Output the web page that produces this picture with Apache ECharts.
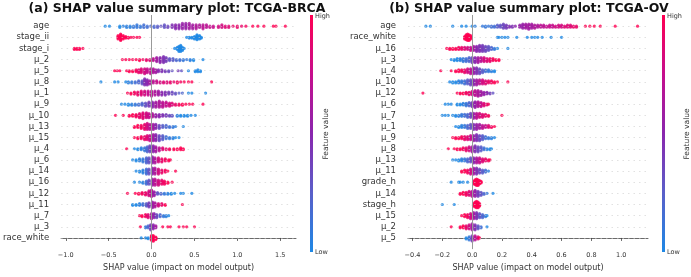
<!DOCTYPE html>
<html>
<head>
<meta charset="utf-8">
<script src="https://cdn.jsdelivr.net/npm/echarts@6/dist/echarts.min.js"></script>
<style>
  html, body { margin: 0; padding: 0; background: #fff; }
  #chart { width: 691px; height: 277px; }
</style>
</head>
<body>
<div id="chart"></div>
<script>
// feature order, top to bottom
const featuresA = ['age', 'stage_ii', 'stage_i', 'μ_2', 'μ_5', 'μ_8', 'μ_1', 'μ_9', 'μ_10', 'μ_13',
  'μ_15', 'μ_4', 'μ_6', 'μ_14', 'μ_16', 'μ_12', 'μ_11', 'μ_7', 'μ_3', 'race_white'];
const featuresB = ['age', 'race_white', 'μ_16', 'μ_3', 'μ_4', 'μ_10', 'μ_12', 'μ_6', 'μ_7', 'μ_1',
  'μ_9', 'μ_8', 'μ_13', 'μ_11', 'grade_h', 'μ_14', 'stage_h', 'μ_15', 'μ_2', 'μ_5'];
const ticksA = [-1.0, -0.5, 0.0, 0.5, 1.0, 1.5];
const ticksB = [-0.4, -0.2, 0.0, 0.2, 0.4, 0.6, 0.8, 1.0];

// one entry per feature: [shap value, samples in bin, feature value (0 low .. 1 high)]
const swarmA = [
  [[-0.54,1,0],[-0.49,1,0],[-0.37,2,0],[-0.33,1,0.05],[-0.29,2,0.05],[-0.25,2,0.05],[-0.21,2,0.1],[-0.17,3,0.1],[-0.13,2,0.1],[-0.09,3,0.15],[-0.05,2,0.15],[-0.01,1,0.2],
   [0.03,2,0.2],[0.07,2,0.25],[0.11,1,0.3],[0.15,3,0.3],[0.19,2,0.35],[0.24,3,0.45],[0.28,4,0.5],[0.32,4,0.5],[0.36,5,0.55],[0.40,5,0.55],[0.44,5,0.6],[0.48,4,0.6],
   [0.52,4,0.65],[0.56,3,0.65],[0.60,4,0.7],[0.64,3,0.7],[0.68,2,0.75],[0.72,2,0.75],[0.78,2,0.8],[0.82,3,0.8],[0.86,2,0.85],[0.90,2,0.85],[0.95,1,0.9],[1.00,2,0.9],
   [1.05,1,0.9],[1.10,1,0.95],[1.18,1,1],[1.24,1,1],[1.31,1,1],[1.42,1,1],[1.45,1,1],[1.56,1,1]],
  [[-0.39,5,1],[-0.36,9,1],[-0.33,5,1],[-0.30,3,1],[-0.27,2,1],[-0.24,1,1],[-0.21,1,1],[-0.17,1,1],[-0.14,1,1],
   [0.41,1,0],[0.44,2,0],[0.47,2,0],[0.50,4,0],[0.53,7,0],[0.56,5,0],[0.58,2,0]],
  [[-0.90,2,1],[-0.87,2,1],[-0.84,2,1],[-0.80,1,1],[0.27,1,0],[0.30,3,0],[0.32,6,0],[0.34,7,0],[0.36,4,0],[0.38,1,0]],
  [[-0.34,1,1],[-0.30,1,1],[-0.26,1,1],[-0.22,1,1],[-0.18,1,1],[-0.14,2,1],[-0.10,1,0.95],[-0.06,2,0.9],[-0.02,2,0.85],
   [0.02,3,0.7],[0.06,5,0.6],[0.10,6,0.5],[0.14,7,0.45],[0.17,5,0.4],[0.21,3,0.3],[0.25,3,0.25],[0.29,2,0.2],[0.33,2,0.15],
   [0.37,2,0.1],[0.41,1,0.1],[0.45,2,0.05],[0.49,2,0],[0.60,1,0]],
  [[-0.43,1,1],[-0.40,1,1],[-0.37,1,1],[-0.29,1,1],[-0.26,2,1],[-0.22,2,1],[-0.18,3,0.95],[-0.15,4,0.9],[-0.12,5,0.85],[-0.08,6,0.8],
   [-0.05,5,0.75],[-0.01,6,0.7],[0.02,5,0.65],[0.05,4,0.6],[0.08,3,0.5],[0.12,3,0.45],[0.16,2,0.4],[0.20,2,0.35],[0.24,1,0.3],
   [0.31,1,0.4],[0.35,1,0.3],[0.43,1,0],[0.51,2,0],[0.54,3,0],[0.57,2,0]],
  [[-0.59,1,0],[-0.43,1,0],[-0.39,1,0],[-0.30,1,0],[-0.27,2,0.05],[-0.23,2,0.1],[-0.19,2,0.15],[-0.15,3,0.2],[-0.11,4,0.3],
   [-0.08,7,0.45],[-0.05,6,0.5],[-0.02,4,0.6],[0.02,3,0.7],[0.06,3,0.75],[0.10,2,0.8],[0.14,2,0.85],[0.18,2,0.85],[0.22,2,0.9],
   [0.26,1,0.9],[0.30,2,0.95],[0.34,1,0.95],[0.38,1,1],[0.43,1,1],[0.47,1,1],[0.70,1,1]],
  [[-0.28,1,1],[-0.24,2,1],[-0.20,3,0.95],[-0.16,4,0.9],[-0.12,5,0.85],[-0.08,5,0.8],[-0.04,5,0.75],[0.00,6,0.7],[0.04,5,0.65],
   [0.08,5,0.6],[0.12,4,0.5],[0.16,4,0.45],[0.20,3,0.4],[0.24,3,0.35],[0.28,2,0.3],[0.32,1,0.25],[0.36,1,0.2],[0.43,1,0],[0.47,1,0],[0.63,1,0]],
  [[-0.35,1,0],[-0.31,1,0],[-0.27,2,0],[-0.23,2,0.05],[-0.19,2,0.1],[-0.15,2,0.15],[-0.11,3,0.2],[-0.07,4,0.3],[-0.03,5,0.4],
   [0.01,6,0.5],[0.05,6,0.6],[0.09,7,0.65],[0.13,6,0.7],[0.17,5,0.75],[0.21,4,0.8],[0.24,3,0.85],[0.28,2,0.9],[0.32,2,0.95],
   [0.36,2,1],[0.40,1,1],[0.44,1,1],[0.48,1,1],[0.60,1,1]],
  [[-0.42,1,1],[-0.33,1,1],[-0.26,2,1],[-0.22,3,1],[-0.18,4,0.95],[-0.14,6,0.9],[-0.10,8,0.85],[-0.06,7,0.8],[-0.03,6,0.75],
   [0.01,5,0.65],[0.05,4,0.55],[0.09,4,0.5],[0.13,3,0.45],[0.17,3,0.4],[0.21,2,0.35],[0.24,2,0.3],[0.30,2,0.05],[0.34,2,0],
   [0.38,2,0],[0.42,2,0],[0.46,1,0],[0.51,1,0]],
  [[-0.20,2,1],[-0.16,3,1],[-0.12,4,0.95],[-0.08,6,0.9],[-0.05,7,0.8],[-0.02,6,0.7],[0.02,6,0.6],[0.05,5,0.5],[0.09,4,0.35],
   [0.13,3,0.25],[0.17,3,0.2],[0.21,2,0.15],[0.25,2,0.1],[0.28,1,0.05],[0.37,1,0]],
  [[-0.20,1,1],[-0.16,2,1],[-0.12,3,0.95],[-0.08,4,0.9],[-0.05,5,0.85],[-0.02,6,0.75],[0.02,7,0.6],[0.05,7,0.5],[0.09,6,0.35],
   [0.13,5,0.25],[0.17,3,0.15],[0.21,2,0.1],[0.25,2,0.05],[0.28,1,0],[0.32,1,0]],
  [[-0.29,1,1],[-0.20,1,0],[-0.16,2,0],[-0.12,3,0.05],[-0.08,4,0.1],[-0.05,6,0.2],[-0.02,7,0.35],[0.02,7,0.5],[0.05,6,0.6],
   [0.09,4,0.7],[0.13,3,0.85],[0.17,2,0.9],[0.21,2,0.95],[0.26,2,1],[0.30,2,1],[0.34,3,1],[0.37,2,1]],
  [[-0.22,1,0],[-0.18,2,0],[-0.14,3,0.05],[-0.10,4,0.1],[-0.06,6,0.2],[-0.03,6,0.3],[0.01,7,0.5],[0.04,6,0.65],[0.08,5,0.8],
   [0.12,4,0.9],[0.16,3,0.95],[0.20,2,1],[0.22,1,1]],
  [[-0.18,1,0],[-0.14,2,0],[-0.10,4,0.05],[-0.06,6,0.15],[-0.03,6,0.3],[0.01,7,0.5],[0.04,7,0.65],[0.08,6,0.8],[0.12,4,0.9],
   [0.16,3,0.95],[0.19,1,1],[0.28,1,1]],
  [[-0.20,1,0],[-0.14,1,0],[-0.10,2,0.05],[-0.06,4,0.15],[-0.03,5,0.3],[0.01,7,0.55],[0.04,7,0.7],[0.08,6,0.8],[0.12,5,0.9],
   [0.15,4,0.95],[0.19,2,1],[0.24,1,1]],
  [[-0.28,1,1],[-0.19,1,1],[-0.15,2,1],[-0.11,3,0.95],[-0.07,4,0.9],[-0.03,7,0.8],[0.00,9,0.7],[0.03,6,0.55],[0.07,3,0.3],
   [0.11,2,0.2],[0.15,2,0.1],[0.19,2,0.05],[0.23,2,0],[0.27,1,0],[0.34,1,0],[0.37,1,0],[0.47,1,0]],
  [[-0.22,2,0],[-0.18,2,0],[-0.14,3,0.05],[-0.10,3,0.15],[-0.06,4,0.25],[-0.03,6,0.4],[0.01,8,0.55],[0.04,6,0.65],[0.08,4,0.8],
   [0.12,3,0.9],[0.16,2,1],[0.36,1,1]],
  [[-0.14,1,1],[-0.11,2,1],[-0.07,3,0.95],[-0.04,4,0.85],[0.00,6,0.65],[0.03,5,0.5],[0.06,4,0.35],[0.10,3,0.2],[0.14,2,0.1],
   [0.17,2,0.05],[0.20,1,0]],
  [[-0.13,1,1],[-0.07,2,0.1],[-0.04,3,0.2],[-0.01,6,0.4],[0.02,5,0.5],[0.05,3,0.6],[0.13,1,1],[0.19,1,1],[0.22,1,1],
   [0.32,1,1],[0.37,1,1],[0.41,1,1],[0.50,1,1]],
  [[-0.12,1,0],[-0.07,1,0],[-0.04,2,0],[0.00,7,1],[0.02,8,1],[0.05,4,1]]
];

const swarmB = [
  [[-0.31,1,0],[-0.28,1,0],[-0.13,1,0],[-0.07,1,0],[-0.04,1,0],[0.00,1,0],[0.02,1,0.05],[0.07,1,0.1],[0.09,2,0.1],[0.11,1,0.1],
   [0.13,2,0.15],[0.15,2,0.15],[0.17,3,0.25],[0.19,3,0.3],[0.21,5,0.35],[0.23,4,0.4],[0.25,2,0.45],[0.27,2,0.45],[0.29,1,0.5],
   [0.32,3,0.55],[0.34,5,0.55],[0.36,5,0.6],[0.38,6,0.6],[0.40,5,0.6],[0.42,4,0.65],[0.44,3,0.65],[0.46,3,0.7],[0.48,3,0.7],
   [0.50,2,0.75],[0.52,3,0.75],[0.54,3,0.75],[0.56,2,0.8],[0.58,3,0.8],[0.60,3,0.8],[0.62,2,0.85],[0.64,3,0.85],[0.66,3,0.85],
   [0.68,2,0.9],[0.70,2,0.9],[0.76,1,1],[0.79,1,1],[0.82,1,1],[0.86,1,1],[0.96,1,1],[1.11,1,1]],
  [[-0.05,4,1],[-0.04,7,1],[-0.03,9,1],[-0.02,8,1],[-0.01,5,1],[0.17,1,0],[0.18,1,0],[0.20,1,0],[0.22,1,0],[0.24,1,0],
   [0.30,1,0],[0.37,1,0],[0.40,1,0],[0.42,1,0],[0.44,1,0],[0.47,1,0],[0.53,1,0],[0.60,1,0]],
  [[-0.17,1,1],[-0.15,2,1],[-0.13,2,1],[-0.11,2,1],[-0.09,3,0.95],[-0.07,3,0.9],[-0.05,3,0.85],[-0.03,3,0.8],[-0.01,4,0.75],
   [0.01,5,0.6],[0.03,6,0.5],[0.05,7,0.45],[0.07,7,0.4],[0.09,6,0.35],[0.11,5,0.3],[0.13,3,0.2],[0.15,2,0.1],[0.17,1,0],[0.24,1,0]],
  [[-0.14,1,0],[-0.12,2,0],[-0.10,3,0],[-0.08,3,0.05],[-0.06,4,0.1],[-0.04,4,0.15],[-0.02,5,0.2],[0.00,6,0.35],[0.02,6,0.5],
   [0.04,6,0.6],[0.06,5,0.7],[0.08,5,0.8],[0.10,4,0.85],[0.12,4,0.9],[0.14,3,0.95],[0.16,2,1],[0.18,2,1]],
  [[-0.21,1,1],[-0.14,1,1],[-0.11,2,1],[-0.09,3,1],[-0.07,3,0.95],[-0.05,4,0.9],[-0.03,5,0.8],[-0.01,6,0.7],[0.01,7,0.55],
   [0.03,7,0.45],[0.05,6,0.35],[0.07,4,0.25],[0.09,3,0.15],[0.11,3,0.1],[0.13,2,0.05],[0.15,2,0]],
  [[-0.15,1,0],[-0.13,2,0],[-0.11,2,0],[-0.09,3,0.05],[-0.07,3,0.1],[-0.05,4,0.15],[-0.03,5,0.25],[-0.01,6,0.35],[0.01,6,0.5],
   [0.03,6,0.6],[0.05,5,0.7],[0.07,5,0.8],[0.09,4,0.85],[0.11,3,0.9],[0.13,3,0.95],[0.15,2,1],[0.17,1,1],[0.24,1,1]],
  [[-0.33,1,1],[-0.10,1,1],[-0.08,2,1],[-0.06,2,1],[-0.04,3,0.95],[-0.02,4,0.9],[0.00,5,0.8],[0.02,7,0.7],[0.04,8,0.65],
   [0.06,6,0.6],[0.08,4,0.55],[0.10,3,0.5],[0.12,2,0.4],[0.14,1,0.3]],
  [[-0.18,1,0],[-0.16,1,0],[-0.14,1,0],[-0.10,2,0],[-0.08,2,0],[-0.06,3,0.05],[-0.04,4,0.1],[-0.02,5,0.2],[0.00,6,0.4],
   [0.02,8,0.55],[0.04,7,0.65],[0.06,6,0.75],[0.08,4,0.85],[0.10,2,0.9],[0.11,1,0.95]],
  [[-0.20,1,0],[-0.18,1,0],[-0.16,1,0],[-0.13,1,0],[-0.11,2,0],[-0.09,2,0.05],[-0.07,3,0.1],[-0.05,3,0.15],[-0.03,4,0.2],
   [-0.01,5,0.35],[0.01,6,0.55],[0.03,6,0.7],[0.05,5,0.8],[0.07,4,0.85],[0.09,3,0.9],[0.11,2,0.95],[0.20,1,1]],
  [[-0.11,1,0],[-0.09,2,0],[-0.07,3,0.05],[-0.05,3,0.1],[-0.03,4,0.2],[-0.01,5,0.3],[0.01,6,0.45],[0.03,6,0.55],[0.05,5,0.6],
   [0.07,4,0.7],[0.09,3,0.75],[0.11,3,0.85],[0.13,2,0.95],[0.15,1,1]],
  [[-0.13,1,1],[-0.11,2,1],[-0.09,2,1],[-0.07,3,0.95],[-0.05,4,0.9],[-0.03,4,0.85],[-0.01,5,0.75],[0.01,6,0.55],[0.03,7,0.45],
   [0.05,6,0.35],[0.07,5,0.25],[0.09,3,0.15],[0.11,2,0.1],[0.13,2,0.05],[0.15,1,0]],
  [[-0.16,1,1],[-0.12,1,1],[-0.10,2,1],[-0.08,2,1],[-0.06,3,0.95],[-0.04,4,0.9],[-0.02,5,0.8],[0.00,6,0.6],[0.02,7,0.45],
   [0.04,6,0.35],[0.06,5,0.25],[0.08,3,0.15],[0.10,2,0.05],[0.12,2,0],[0.13,1,0]],
  [[-0.13,1,0],[-0.11,1,0],[-0.09,2,0],[-0.07,3,0.05],[-0.05,3,0.1],[-0.03,4,0.2],[-0.01,5,0.3],[0.01,6,0.5],[0.03,6,0.65],
   [0.05,6,0.75],[0.07,4,0.85],[0.09,3,0.9],[0.11,2,0.95],[0.12,1,1]],
  [[-0.07,2,1],[-0.05,3,1],[-0.03,4,0.95],[-0.01,6,0.8],[0.01,7,0.6],[0.03,7,0.45],[0.05,5,0.35],[0.07,4,0.25],[0.09,3,0.15],[0.11,1,0.05]],
  [[-0.14,1,0],[-0.09,1,0],[-0.08,1,0],[-0.06,1,0],[-0.03,1,0],[0.01,4,1],[0.02,7,1],[0.03,9,1],[0.04,8,1],[0.05,5,1],[0.06,3,1]],
  [[-0.08,2,1],[-0.06,3,1],[-0.04,4,0.95],[-0.02,5,0.85],[0.00,6,0.7],[0.02,7,0.55],[0.04,6,0.4],[0.06,4,0.3],[0.08,2,0.2],[0.10,1,0.1],[0.14,1,0]],
  [[-0.20,1,0],[-0.12,1,0],[0.01,4,1],[0.02,7,1],[0.03,9,1],[0.04,8,1],[0.05,4,1]],
  [[-0.07,1,1],[-0.05,3,1],[-0.03,4,0.95],[-0.01,6,0.8],[0.01,7,0.6],[0.03,7,0.45],[0.05,5,0.3],[0.07,4,0.2],[0.09,2,0.1],[0.10,1,0]],
  [[-0.14,1,1],[-0.08,2,1],[-0.06,3,1],[-0.04,4,0.9],[-0.02,5,0.8],[0.00,7,0.6],[0.02,6,0.45],[0.04,4,0.3],[0.06,2,0.15],[0.10,1,0]],
  [[-0.04,2,0],[-0.02,4,0.1],[0.00,6,0.4],[0.02,5,0.7],[0.04,3,0.85],[0.05,1,1]]
];

const FONT = '"DejaVu Sans", sans-serif';
const cmap = ['#1E88E5', '#5A5FC9', '#8A26AE', '#C60E8D', '#FF0052'];

// stack the samples of each bin the way shap's beeswarm does
function beeswarm(rows) {
  const pts = [];
  rows.forEach((bins, i) => {
    const yRow = rows.length - 1 - i;
    let maxOff = 0;
    bins.forEach(b => { maxOff = Math.max(maxOff, Math.floor(b[1] / 2)); });
    const step = 0.9 * 0.4 / (maxOff + 1);
    bins.forEach(b => {
      for (let k = 0; k < b[1]; k++) {
        const off = Math.ceil(k / 2) * (k % 2 ? -1 : 1);
        pts.push([b[0], yRow + off * step, b[2]]);
      }
    });
  });
  return pts;
}

function fmt(v) {
  return v.toFixed(1).replace('-', '\u2212');
}

function xAxisOf(idx, min, max, ticks) {
  return {
    gridIndex: idx, type: 'value', min: min, max: max,
    splitLine: { show: false },
    axisLine: { show: true, lineStyle: { color: '#444', width: 0.8 } },
    axisTick: { show: true, customValues: ticks, length: 3, lineStyle: { color: '#444', width: 0.8 } },
    axisLabel: { customValues: ticks, formatter: fmt, fontSize: 6.5, color: '#333', margin: 3, fontFamily: FONT },
    name: 'SHAP value (impact on model output)',
    nameLocation: 'middle', nameGap: 12,
    nameTextStyle: { fontSize: 8, color: '#333', fontFamily: FONT }
  };
}

function yAxisOf(idx, names) {
  const rowVals = names.map((n, i) => i);
  return {
    gridIndex: idx, type: 'value', min: -1, max: names.length,
    axisLine: { show: false }, axisTick: { show: false }, splitLine: { show: false },
    axisLabel: {
      customValues: rowVals, margin: 12, fontSize: 8.5, color: '#333', fontFamily: FONT,
      formatter: v => names[names.length - 1 - Math.round(v)]
    }
  };
}

function guides(idx, names) {
  const data = names.map((n, i) => ({ yAxis: i, lineStyle: { color: '#cccccc', width: 0.6, type: [1.5, 4] } }));
  data.push({ xAxis: 0, lineStyle: { color: '#999999', width: 1, type: 'solid' } });
  return {
    type: 'scatter', xAxisIndex: idx, yAxisIndex: idx, data: [], z: 1,
    markLine: { silent: true, symbol: ['none', 'none'], label: { show: false }, animation: false, data: data }
  };
}

function colorbar(x, labelX) {
  return [
    { type: 'rect', shape: { x: x, y: 15, width: 3, height: 237 },
      style: { fill: new echarts.graphic.LinearGradient(0, 1, 0, 0,
        cmap.map((c, i) => ({ offset: i / (cmap.length - 1), color: c }))) } },
    { type: 'text', x: x + 5, y: 16, style: { text: 'High', fontSize: 6.5, fontFamily: FONT, fill: '#333', align: 'left', verticalAlign: 'middle' } },
    { type: 'text', x: x + 5, y: 252, style: { text: 'Low', fontSize: 6.5, fontFamily: FONT, fill: '#333', align: 'left', verticalAlign: 'middle' } },
    { type: 'text', x: labelX, y: 134, rotation: Math.PI / 2,
      style: { text: 'Feature value', fontSize: 7.5, fontFamily: FONT, fill: '#333', align: 'center', verticalAlign: 'middle' } }
  ];
}

const chart = echarts.init(document.getElementById('chart'));
chart.setOption({
  animation: false,
  grid: [
    { left: 57, top: 15, width: 239, height: 238 },
    { left: 408, top: 15, width: 240, height: 238 }
  ],
  xAxis: [xAxisOf(0, -1.054, 1.684, ticksA), xAxisOf(1, -0.43, 1.18, ticksB)],
  yAxis: [yAxisOf(0, featuresA), yAxisOf(1, featuresB)],
  visualMap: [
    { type: 'continuous', show: false, min: 0, max: 1, dimension: 2, seriesIndex: 0, inRange: { color: cmap } },
    { type: 'continuous', show: false, min: 0, max: 1, dimension: 2, seriesIndex: 1, inRange: { color: cmap } }
  ],
  series: [
    { type: 'scatter', xAxisIndex: 0, yAxisIndex: 0, data: beeswarm(swarmA), symbolSize: 3.2, z: 3, silent: true },
    { type: 'scatter', xAxisIndex: 1, yAxisIndex: 1, data: beeswarm(swarmB), symbolSize: 3.2, z: 3, silent: true },
    guides(0, featuresA),
    guides(1, featuresB)
  ],
  graphic: [
    { type: 'text', x: 177, y: 9, style: { text: '(a) SHAP value summary plot: TCGA-BRCA', font: 'bold 12.5px ' + FONT, fill: '#111', align: 'center', verticalAlign: 'middle' } },
    { type: 'text', x: 529, y: 9, style: { text: '(b) SHAP value summary plot: TCGA-OV', font: 'bold 12.5px ' + FONT, fill: '#111', align: 'center', verticalAlign: 'middle' } }
  ].concat(colorbar(310, 326), colorbar(662, 687))
});
</script>
</body>
</html>
